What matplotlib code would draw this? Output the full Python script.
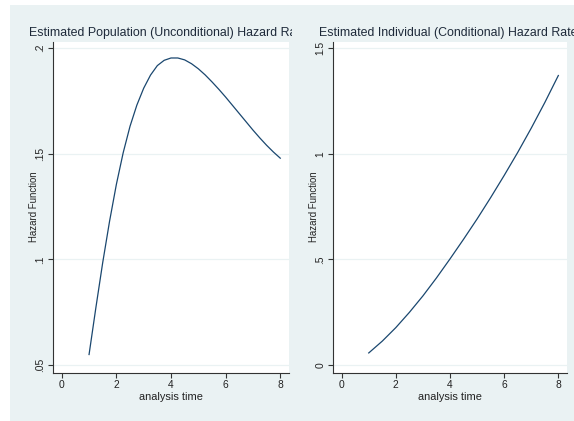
import matplotlib
matplotlib.use("Agg")
import matplotlib.pyplot as plt
from matplotlib.patches import Rectangle

# values
t_pop = [1.0, 1.25, 1.5, 1.75, 2.0, 2.25, 2.5, 2.75, 3.0, 3.25, 3.5, 3.75,
         4.0, 4.25, 4.5, 4.75, 5.0, 5.25, 5.5, 5.75, 6.0, 6.25, 6.5, 6.75,
         7.0, 7.25, 7.5, 7.75, 8.0]
h_pop = [0.0550, 0.0772, 0.0985, 0.1180, 0.1355, 0.1505, 0.1630, 0.1730,
         0.1810, 0.1872, 0.1917, 0.1942, 0.1953, 0.1953, 0.1944, 0.1926,
         0.1902, 0.1873, 0.1840, 0.1805, 0.1768, 0.1729, 0.1690, 0.1651,
         0.1612, 0.1575, 0.1540, 0.1508, 0.1479]

t_ind = [1.0, 1.5, 2.0, 2.5, 3.0, 3.5, 4.0, 4.5, 5.0, 5.5, 6.0, 6.5, 7.0, 7.5, 8.0]
h_ind = [0.057, 0.113, 0.177, 0.249, 0.327, 0.412, 0.502, 0.595, 0.691,
         0.792, 0.897, 1.006, 1.121, 1.242, 1.370]

x_ticks = [0, 2, 4, 6, 8]
y_ticks_pop = [0.05, 0.1, 0.15, 0.2]
y_labels_pop = [".05", ".1", ".15", ".2"]
y_ticks_ind = [0, 0.5, 1, 1.5]
y_labels_ind = ["0", ".5", "1", "1.5"]

titles = ["Estimated Population (Unconditional) Hazard Rate",
          "Estimated Individual (Conditional) Hazard Rate"]

BG = "#eaf2f3"
LINE = "#1a476f"
W, H = 574, 421

plt.rcParams["font.family"] = ["Liberation Sans", "DejaVu Sans"]

fig = plt.figure(figsize=(W / 100, H / 100), dpi=100, facecolor="white")

# graph regions (panel 2 drawn over panel 1's overflowing title)
fig.patches.append(Rectangle((10 / W, 0), (292 - 10) / W, 1 - 5 / H,
                             transform=fig.transFigure, facecolor=BG,
                             edgecolor="none", zorder=-5))
fig.patches.append(Rectangle((292 / W, 0), (W - 292) / W, 1 - 5 / H,
                             transform=fig.transFigure, facecolor=BG,
                             edgecolor="none", zorder=1))

bottom = 1 - 372.7 / H
top = 1 - 41.5 / H
ax1 = fig.add_axes([53 / W, bottom, (289 - 53) / W, top - bottom])
ax2 = fig.add_axes([333 / W, bottom, (567 - 333) / W, top - bottom])
ax1.set_zorder(0)
ax2.set_zorder(2)

panels = [
    (ax1, t_pop, h_pop, y_ticks_pop, y_labels_pop, (0.0464, 0.2031), 0.487),
    (ax2, t_ind, h_ind, y_ticks_ind, y_labels_ind, (-0.0365, 1.531), 0.492),
]

for i, (ax, t, h, yt, yl, ylim, tx) in enumerate(panels):
    ax.set_facecolor("white")
    ax.plot(t, h, color=LINE, lw=0.9)
    ax.set_xlim(-0.32, 8.32)
    ax.set_ylim(*ylim)
    ax.set_xticks(x_ticks)
    ax.set_xticklabels([str(v) for v in x_ticks])
    ax.set_yticks(yt)
    ax.set_yticklabels(yl, rotation=90, va="center")
    for s in ["top", "right"]:
        ax.spines[s].set_visible(False)
    for s in ["left", "bottom"]:
        ax.spines[s].set_color("#333333")
        ax.spines[s].set_linewidth(0.8)
    ax.tick_params(direction="out", length=3.5, width=0.8, color="#333333",
                   labelsize=7.4, labelcolor="#222222", pad=2)
    ax.grid(axis="y", color=BG, lw=0.9)
    ax.set_axisbelow(True)
    ax.set_xlabel("analysis time", fontsize=7.9, color="#222222", labelpad=1)
    ax.set_ylabel("Hazard Function", fontsize=6.9, color="#222222")
    ax.yaxis.set_label_coords(-0.058, 0.5)
    ax.set_title(titles[i], fontsize=8.9, color="#1e2a3a", pad=4, x=tx)

fig.savefig("out.png", dpi=100, facecolor="white")
